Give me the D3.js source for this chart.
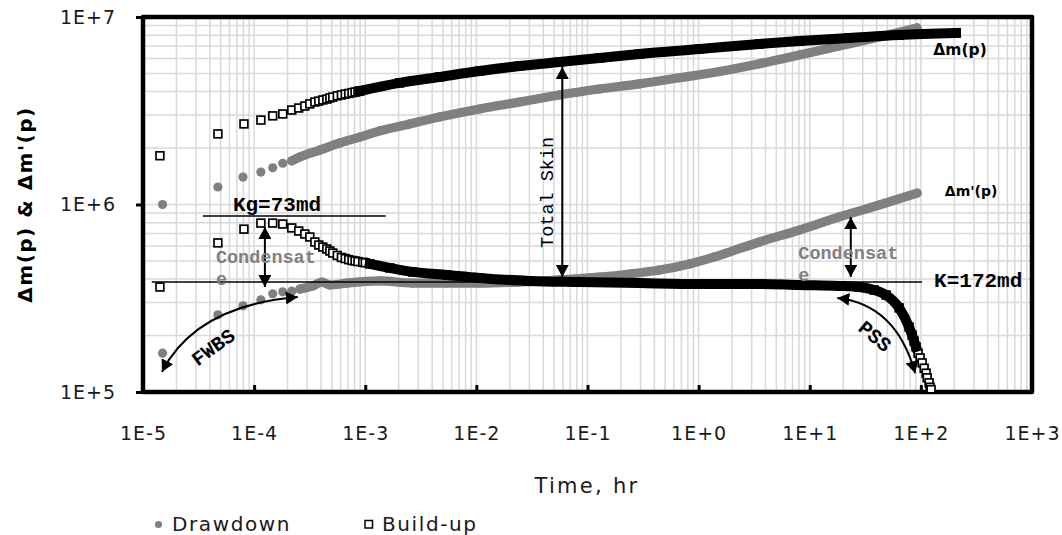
<!DOCTYPE html>
<html>
<head>
<meta charset="utf-8">
<script src="https://cdn.jsdelivr.net/npm/d3@7"></script>
<style>
  body { margin: 0; background: #fff; }
  svg { display: block; }
</style>
</head>
<body>
<div id="container"></div>
<script>

// [time (hr), value] pairs
const drawdownPressure = [
  [1.5e-5, 1.00e6], [4.72e-5, 1.24e6], [7.94e-5, 1.40e6], [1.15e-4, 1.49e6], [1.47e-4, 1.57e6],
  [1.81e-4, 1.66e6], [2.18e-4, 1.71e6], [2.58e-4, 1.79e6], [3.9e-4, 1.95e6], [5.9e-4, 2.13e6],
  [8.93e-4, 2.29e6], [1.35e-3, 2.47e6], [2.51e-3, 2.69e6], [4.67e-3, 2.93e6], [1.07e-2, 3.23e6],
  [2.45e-2, 3.52e6], [5.6e-2, 3.84e6], [0.128, 4.13e6], [0.293, 4.40e6], [0.671, 4.74e6],
  [1.54, 5.12e6], [3.52, 5.63e6], [8.05, 6.27e6], [18.4, 7.00e6], [42.2, 7.82e6], [92.5, 8.74e6]
];

const drawdownDerivative = [
  [1.5e-5, 1.61e5], [4.72e-5, 2.58e5], [7.94e-5, 2.88e5], [1.15e-4, 3.10e5], [1.47e-4, 3.34e5],
  [1.81e-4, 3.42e5], [2.18e-4, 3.45e5], [2.58e-4, 3.54e5], [3.37e-4, 3.68e5], [4.06e-4, 3.86e5],
  [4.8e-4, 3.72e5], [6.82e-4, 3.81e5], [1.35e-3, 3.91e5], [2.67e-3, 3.81e5], [5.41e-3, 3.81e5],
  [1.07e-2, 3.81e5], [2.45e-2, 3.86e5], [5.6e-2, 3.96e5], [0.128, 4.10e5], [0.239, 4.26e5],
  [0.444, 4.47e5], [0.826, 4.82e5], [1.39, 5.25e5], [2.01, 5.65e5], [3.52, 6.31e5],
  [8.05, 7.31e5], [18.4, 8.58e5], [42.2, 9.94e5], [92.5, 1.15e6]
];

const buildupPressure = [
  [1.42e-5, 1.82e6], [4.72e-5, 2.38e6], [8.1e-5, 2.69e6], [1.15e-4, 2.82e6], [1.47e-4, 2.97e6],
  [1.81e-4, 3.04e6], [2.18e-4, 3.19e6], [2.52e-4, 3.27e6], [2.86e-4, 3.35e6], [3.17e-4, 3.44e6],
  [3.52e-4, 3.52e6], [3.82e-4, 3.56e6], [4.15e-4, 3.61e6], [4.51e-4, 3.65e6], [4.8e-4, 3.70e6],
  [5.1e-4, 3.74e6], [5.6e-4, 3.80e6], [6.1e-4, 3.84e6], [6.6e-4, 3.88e6], [7.1e-4, 3.91e6],
  [7.6e-4, 3.95e6], [8.1e-4, 3.98e6], [8.6e-4, 4.01e6], [8.93e-4, 4.03e6], [2.04e-3, 4.45e6],
  [4.67e-3, 4.79e6], [1.07e-2, 5.15e6], [2.45e-2, 5.48e6], [5.6e-2, 5.75e6], [0.128, 6.04e6],
  [0.293, 6.35e6], [1.02, 6.75e6], [3.52, 7.18e6], [8.05, 7.45e6], [22.6, 7.73e6],
  [63.7, 8.02e6], [207, 8.22e6]
];

const buildupDerivative = [
  [1.42e-5, 3.63e5], [4.72e-5, 6.24e5], [8.1e-5, 7.39e5], [1.15e-4, 7.96e5], [1.47e-4, 7.96e5],
  [1.81e-4, 7.87e5], [2.18e-4, 7.50e5], [2.52e-4, 7.22e5], [2.86e-4, 6.96e5], [3.17e-4, 6.71e5],
  [3.52e-4, 6.31e5], [3.82e-4, 6.08e5], [4.15e-4, 5.93e5], [4.51e-4, 5.79e5], [4.8e-4, 5.65e5],
  [5.1e-4, 5.51e5], [5.6e-4, 5.35e5], [6.1e-4, 5.22e5], [6.6e-4, 5.15e5], [7.1e-4, 5.08e5],
  [7.6e-4, 5.03e5], [8.1e-4, 5.00e5], [8.6e-4, 4.96e5], [9.5e-4, 4.92e5], [1.0e-3, 4.89e5],
  [1.1e-3, 4.82e5], [1.66e-3, 4.59e5], [2.67e-3, 4.37e5], [5.41e-3, 4.21e5], [1.07e-2, 4.06e5],
  [3.01e-2, 3.91e5], [8.47e-2, 3.86e5], [0.293, 3.81e5], [1.02, 3.77e5], [3.52, 3.77e5],
  [8.05, 3.72e5], [18.4, 3.68e5], [27.9, 3.63e5], [38.0, 3.50e5], [48.7, 3.29e5],
  [63.7, 2.81e5], [78.3, 2.22e5], [83.4, 2.01e5], [86.9, 1.87e5], [90.5, 1.74e5],
  [94.4, 1.61e5], [98.4, 1.52e5], [102.6, 1.43e5], [107, 1.34e5], [111.5, 1.26e5],
  [114, 1.19e5], [118.6, 1.12e5], [121, 1.06e5], [123.6, 1.03e5]
];

// where the samples are so close that they merge into a solid band
const drawdownPressureBand = [2.18e-4, 1e3];
const drawdownDerivativeBand = [2.58e-4, 1e3];
const buildupPressureBand = [8.93e-4, 1e3];
const buildupDerivativeBand = [1.1e-3, 90.5];

const xDecades = [1e-5, 1e-4, 1e-3, 1e-2, 1e-1, 1e0, 1e1, 1e2, 1e3];
const yDecades = [1e5, 1e6, 1e7];
const legendNames = ["Drawdown", "Build-up"];

function main() {

    const width = 1062, height = 535;
    const plot = {left: 143, top: 17, right: 1032, bottom: 392};
    const grey = "#808080";
    const sans = "'DejaVu Sans', Verdana, sans-serif";
    const mono = "'Liberation Mono', 'Courier New', monospace";

    const svg = d3.select("#container")
        .append("svg")
        .attr("width", width)
        .attr("height", height);

    const xScale = d3.scaleLog()
        .domain([1e-5, 1e3])
        .range([plot.left, plot.right]);

    const yScale = d3.scaleLog()
        .domain([1e5, 1e7])
        .range([plot.bottom, plot.top]);

    const defs = svg.append("defs");
    defs.append("clipPath").attr("id", "plotClip")
        .append("rect")
        .attr("x", plot.left).attr("y", plot.top)
        .attr("width", plot.right - plot.left)
        .attr("height", plot.bottom - plot.top);

    defs.append("marker")
        .attr("id", "head")
        .attr("viewBox", "0 0 10 10")
        .attr("refX", 10).attr("refY", 5)
        .attr("markerUnits", "userSpaceOnUse")
        .attr("markerWidth", 12).attr("markerHeight", 13)
        .attr("preserveAspectRatio", "none")
        .attr("orient", "auto-start-reverse")
        .append("path")
        .attr("d", "M0,0L10,5L0,10Z")
        .attr("fill", "black");

    // grid
    const grid = svg.append("g")
        .attr("stroke", "#d9d9d9")
        .attr("stroke-width", 1.5);
    grid.selectAll(".gx").data(xScale.ticks()).join("line")
        .attr("x1", d => xScale(d)).attr("x2", d => xScale(d))
        .attr("y1", plot.top).attr("y2", plot.bottom);
    grid.selectAll(".gy").data(yScale.ticks()).join("line")
        .attr("y1", d => yScale(d)).attr("y2", d => yScale(d))
        .attr("x1", plot.left).attr("x2", plot.right);

    const expFormat = d => {
        const e = Math.round(Math.log10(d));
        return "1E" + (e >= 0 ? "+" : "") + e;
    };

    // axes
    svg.append("g")
        .attr("transform", `translate(0,${plot.bottom})`)
        .call(d3.axisBottom(xScale)
            .tickValues(xDecades)
            .tickFormat(expFormat)
            .tickSize(-7)
            .tickPadding(35))
        .call(g => g.select(".domain").remove())
        .call(g => g.selectAll(".tick line").attr("stroke", "black").attr("stroke-width", 3))
        .call(g => g.selectAll(".tick text")
            .attr("font-family", sans).attr("font-size", 19)
            .attr("letter-spacing", 1).attr("fill", "#1a1a1a"));

    svg.append("g")
        .attr("transform", `translate(${plot.left},0)`)
        .call(d3.axisLeft(yScale)
            .tickValues(yDecades)
            .tickFormat(expFormat)
            .tickSize(7)
            .tickPadding(20))
        .call(g => g.select(".domain").remove())
        .call(g => g.selectAll(".tick line").attr("stroke", "black").attr("stroke-width", 3))
        .call(g => g.selectAll(".tick text")
            .attr("font-family", sans).attr("font-size", 19)
            .attr("letter-spacing", 1).attr("fill", "#1a1a1a"));

    // plot frame
    svg.append("rect")
        .attr("x", plot.left).attr("y", plot.top)
        .attr("width", plot.right - plot.left)
        .attr("height", plot.bottom - plot.top)
        .attr("fill", "none")
        .attr("stroke", "black")
        .attr("stroke-width", 4.5)
        .attr("stroke-linejoin", "round");

    const data = svg.append("g").attr("clip-path", "url(#plotClip)");

    const line = d3.line()
        .x(d => xScale(d[0]))
        .y(d => yScale(d[1]))
        .curve(d3.curveMonotoneX);

    function drawCircles(series, band) {
        data.append("g").selectAll("circle").data(series).join("circle")
            .attr("cx", d => xScale(d[0]))
            .attr("cy", d => yScale(d[1]))
            .attr("r", 4.6)
            .attr("fill", grey);
        data.append("path")
            .datum(series.filter(d => d[0] >= band[0] && d[0] <= band[1]))
            .attr("fill", "none")
            .attr("stroke", grey)
            .attr("stroke-width", 9.2)
            .attr("stroke-linecap", "round")
            .attr("stroke-linejoin", "round")
            .attr("d", line);
    }

    function drawSquares(series, band) {
        const s = 7.8;
        data.append("g").selectAll("rect").data(series).join("rect")
            .attr("x", d => xScale(d[0]) - s / 2)
            .attr("y", d => yScale(d[1]) - s / 2)
            .attr("width", s).attr("height", s)
            .attr("fill", "white")
            .attr("stroke", "black")
            .attr("stroke-width", 1.7);
        data.append("path")
            .datum(series.filter(d => d[0] >= band[0] && d[0] <= band[1]))
            .attr("fill", "none")
            .attr("stroke", "black")
            .attr("stroke-width", 10)
            .attr("stroke-linecap", "square")
            .attr("stroke-linejoin", "round")
            .attr("d", line);
    }

    drawCircles(drawdownPressure, drawdownPressureBand);
    drawCircles(drawdownDerivative, drawdownDerivativeBand);
    drawSquares(buildupPressure, buildupPressureBand);
    drawSquares(buildupDerivative, buildupDerivativeBand);

    // annotations (placed in data units)
    const ann = svg.append("g");

    function hLine(v, t1, t2) {
        ann.append("line")
            .attr("x1", xScale(t1)).attr("x2", xScale(t2))
            .attr("y1", yScale(v)).attr("y2", yScale(v))
            .attr("stroke", "black").attr("stroke-width", 1.6);
    }
    function vArrow(t, v1, v2) {
        ann.append("line")
            .attr("x1", xScale(t)).attr("x2", xScale(t))
            .attr("y1", yScale(v1)).attr("y2", yScale(v2))
            .attr("stroke", "black").attr("stroke-width", 2)
            .attr("marker-start", "url(#head)")
            .attr("marker-end", "url(#head)");
    }
    function curveArrow(p0, c, p2) {
        const P = p => [xScale(p[0]), yScale(p[1])];
        const a = P(p0), b = P(c), e = P(p2);
        ann.append("path")
            .attr("d", `M${a}Q${b} ${e}`)
            .attr("fill", "none")
            .attr("stroke", "black").attr("stroke-width", 2)
            .attr("marker-start", "url(#head)")
            .attr("marker-end", "url(#head)");
    }
    function note(txt, t, v, opts) {
        const o = Object.assign({size: 21, weight: "bold", fill: "black", anchor: "start", rotate: 0, family: mono}, opts);
        return ann.append("text")
            .attr("transform", `translate(${xScale(t)},${yScale(v)}) rotate(${o.rotate})`)
            .attr("font-family", o.family)
            .attr("font-size", o.size)
            .attr("font-weight", o.weight)
            .attr("fill", o.fill)
            .attr("text-anchor", o.anchor)
            .text(txt);
    }

    hLine(8.69e5, 3.46e-5, 1.53e-3);
    hLine(3.86e5, 1.20e-5, 102.6);

    vArrow(1.25e-4, 7.59e5, 3.63e5);
    vArrow(23.4, 8.58e5, 4.11e5);
    vArrow(0.0593, 5.41e6, 4.11e5);

    curveArrow([1.48e-5, 1.28e5], [2.99e-5, 2.89e5], [2.47e-4, 3.21e5]);
    curveArrow([17.7, 3.17e5], [59.9, 2.93e5], [88.8, 1.26e5]);

    note("Kg=73md", 6.44e-5, 9.23e5);
    note("K=172md", 131.5, 3.63e5);

    const condL = note("Condensat", 4.53e-5, 4.88e5, {size: 18.5, fill: grey});
    condL.append("tspan").attr("x", 0).attr("dy", "1.2em").text("e");
    const condR = note("Condensat", 7.89, 5.12e5, {size: 18.5, fill: grey});
    condR.append("tspan").attr("x", 0).attr("dy", "1.2em").text("e");

    note("Total Skin", 0.0485, 1.16e6, {size: 18.5, weight: "normal", anchor: "middle", rotate: -90});
    note("FWBS", 4.26e-5, 1.74e5, {size: 20, anchor: "middle", rotate: -36}).attr("dy", "0.35em");
    note("PSS", 38.8, 1.99e5, {size: 20, anchor: "middle", rotate: 40}).attr("dy", "0.35em");

    note("\u0394m(p)", 225, 6.67e6, {family: sans, size: 15.5, anchor: "middle"}).attr("dy", "0.35em");
    note("\u0394m'(p)", 283, 1.18e6, {family: sans, size: 14, anchor: "middle"}).attr("dy", "0.35em");

    // axis titles
    svg.append("text")
        .attr("x", 587).attr("y", 493)
        .attr("text-anchor", "middle")
        .attr("font-family", sans).attr("font-size", 21)
        .attr("letter-spacing", 2.3)
        .attr("fill", "#1a1a1a")
        .text("Time, hr");

    svg.append("text")
        .attr("transform", `translate(32,${(plot.top + plot.bottom) / 2}) rotate(-90)`)
        .attr("text-anchor", "middle")
        .attr("font-family", sans).attr("font-size", 20)
        .attr("font-weight", "bold")
        .attr("letter-spacing", 1.5)
        .text("\u0394m(p) & \u0394m'(p)");

    // legend
    const legend = svg.append("g")
        .attr("font-family", sans).attr("font-size", 20)
        .attr("letter-spacing", 1.6).attr("fill", "#1a1a1a");
    legend.append("circle").attr("cx", 158.5).attr("cy", 524.5).attr("r", 3.6).attr("fill", grey);
    legend.append("text").attr("x", 172).attr("y", 531).text(legendNames[0]);
    legend.append("rect").attr("x", 365).attr("y", 520.5).attr("width", 7.5).attr("height", 7.5)
        .attr("fill", "white").attr("stroke", "black").attr("stroke-width", 1.5);
    legend.append("text").attr("x", 382).attr("y", 531).text(legendNames[1]);
}

main();
</script>
</body>
</html>
